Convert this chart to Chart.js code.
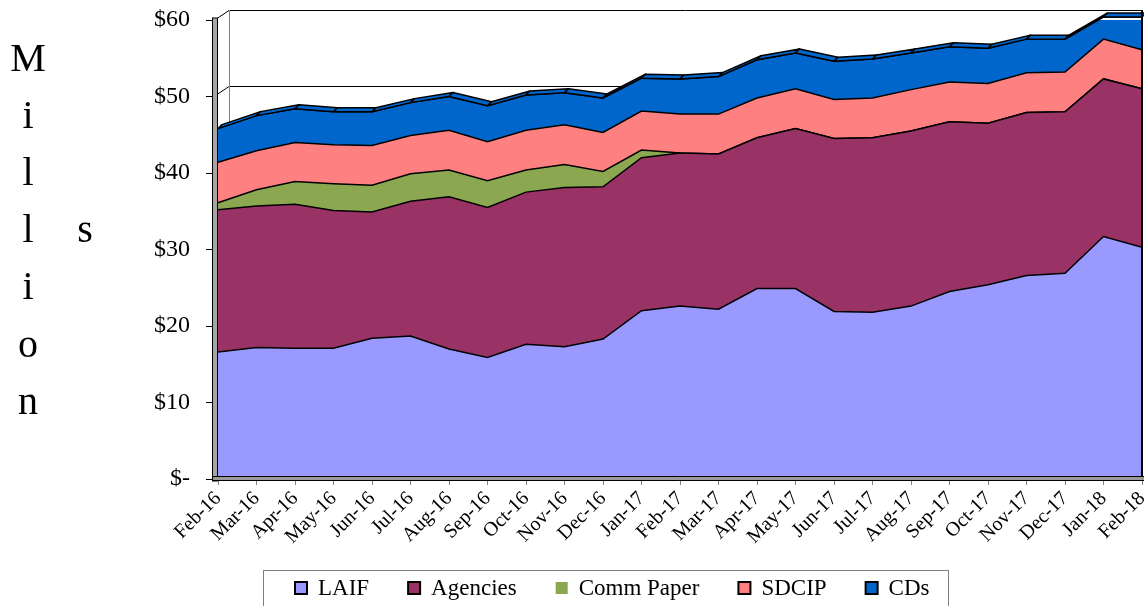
<!DOCTYPE html>
<html>
<head>
<meta charset="utf-8">
<script src="https://cdn.jsdelivr.net/npm/chart.js@4.4.1/dist/chart.umd.min.js"></script>
<style>
html,body{margin:0;padding:0;background:#fff;}
#wrap{width:1144px;height:606px;position:relative;overflow:hidden;}
</style>
</head>
<body>
<div id="wrap"><canvas id="c" width="1144" height="606"></canvas></div>
<script>
// ---- data ----
const months = ['Feb-16','Mar-16','Apr-16','May-16','Jun-16','Jul-16','Aug-16','Sep-16','Oct-16','Nov-16','Dec-16',
  'Jan-17','Feb-17','Mar-17','Apr-17','May-17','Jun-17','Jul-17','Aug-17','Sep-17','Oct-17','Nov-17','Dec-17','Jan-18','Feb-18'];
const laif      = [16.6,17.2,17.1,17.1,18.4,18.7,17.0,15.9,17.6,17.3,18.3,22.0,22.6,22.2,24.9,24.9,21.9,21.8,22.6,24.5,25.4,26.6,26.9,31.7,30.3];
const agencies  = [18.6,18.5,18.8,18.0,16.5,17.6,19.9,19.6,19.9,20.8,19.9,20.0,20.0,20.3,19.7,20.9,22.6,22.8,22.9,22.2,21.1,21.3,21.1,20.6,20.7];
const commPaper = [0.9,2.1,3.0,3.5,3.5,3.6,3.5,3.5,2.9,3.0,2.0,1.0,0,0,0,0,0,0,0,0,0,0,0,0,0];
const sdcip     = [5.3,5.1,5.1,5.1,5.2,5.0,5.2,5.1,5.2,5.2,5.1,5.1,5.1,5.2,5.2,5.2,5.1,5.2,5.4,5.2,5.2,5.2,5.2,5.2,5.1];
const cds       = [4.4,4.6,4.4,4.3,4.4,4.3,4.4,4.7,4.6,4.2,4.5,4.3,4.6,4.9,5.0,4.7,5.0,5.1,4.8,4.6,4.6,4.4,4.3,2.9,4.3];
const seriesNames = ['LAIF','Agencies','Comm Paper','SDCIP','CDs'];
const yTickValues = [0,10,20,30,40,50,60];
const yTitle = 'Millions';

// ---- styles ----
const seriesColors = ['#9999FF','#993366','#8BA750','#FF8080','#0066CC'];
const legendOutlined = [true,true,false,true,true];
const serif = "'Liberation Serif','Times New Roman',serif";
const WALL_DX = 11, WALL_DY = 10;   // 3D wall offset
const RIB = 4;                      // series depth

const seriesValues = [laif, agencies, commPaper, sdcip, cds];

const wallPlugin = {
  id: 'walls',
  beforeDatasetsDraw(chart) {
    const {ctx, chartArea: a, scales: {y}} = chart;
    ctx.save();
    ctx.strokeStyle = '#000'; ctx.lineWidth = 1;
    yTickValues.forEach(v => {
      const py = Math.round(y.getPixelForValue(v) - WALL_DY) + 0.5;
      ctx.beginPath(); ctx.moveTo(a.left + WALL_DX, py); ctx.lineTo(a.right, py); ctx.stroke();
      ctx.beginPath(); ctx.moveTo(a.left - 4, py + WALL_DY); ctx.lineTo(a.left + WALL_DX, py); ctx.stroke();
    });
    ctx.strokeStyle = '#808080';
    ctx.beginPath(); ctx.moveTo(a.left + WALL_DX + 0.5, y.getPixelForValue(60) - WALL_DY); ctx.lineTo(a.left + WALL_DX + 0.5, a.bottom - WALL_DY); ctx.stroke();
    ctx.fillStyle = '#a6a6a6';
    ctx.fillRect(a.left - 5, a.top - 2, 5, a.bottom - a.top + 4);
    ctx.strokeStyle = '#000';
    ctx.strokeRect(a.left - 5.5, a.top - 2, 5, a.bottom - a.top + 4);
    ctx.restore();
  },
  afterDatasetsDraw(chart) {
    const {ctx, chartArea: a, scales: {y}} = chart;
    const meta = chart.getDatasetMeta(seriesNames.length - 1);
    const pts = meta.data;
    ctx.save();
    ctx.lineJoin = 'round';
    ctx.fillStyle = seriesColors[seriesColors.length - 1];
    ctx.strokeStyle = '#000'; ctx.lineWidth = 1.5;
    for (let i = 0; i < pts.length - 1; i++) {
      const p = pts[i], q = pts[i + 1];
      ctx.beginPath();
      ctx.moveTo(p.x, p.y); ctx.lineTo(q.x, q.y);
      ctx.lineTo(q.x + RIB, q.y - RIB); ctx.lineTo(p.x + RIB, p.y - RIB);
      ctx.closePath(); ctx.fill(); ctx.stroke();
    }
    // right edge of plot
    ctx.lineWidth = 2;
    ctx.beginPath(); ctx.moveTo(a.right, y.getPixelForValue(60) - WALL_DY); ctx.lineTo(a.right, a.bottom); ctx.stroke();
    // floor strip
    ctx.fillStyle = '#9a9a9a'; ctx.lineWidth = 1;
    ctx.fillRect(a.left - 5, a.bottom - 2, a.right - a.left + 10, 4);
    ctx.strokeRect(a.left - 5.5, a.bottom - 2.5, a.right - a.left + 10, 4);
    ctx.restore();
  },
  afterDraw(chart) {
    const ctx = chart.ctx;
    ctx.save();
    ctx.fillStyle = '#000';
    ctx.font = '40px ' + serif;
    ctx.textAlign = 'center'; ctx.textBaseline = 'middle';
    const letters = yTitle.split('');
    letters.forEach((ch, i) => {
      if (i < 7) ctx.fillText(ch, 28, 60 + i * 57.2);
      else ctx.fillText(ch, 85, 60 + 3 * 57.2);
    });
    ctx.font = '23px ' + serif;
    ctx.textAlign = 'left';
    let x = 295; const cy = 588;
    seriesNames.forEach((name, i) => {
      ctx.fillStyle = seriesColors[i];
      ctx.fillRect(x, cy - 6, 12, 12);
      if (legendOutlined[i]) { ctx.strokeStyle = '#000'; ctx.lineWidth = 2; ctx.strokeRect(x, cy - 6, 12, 12); }
      ctx.fillStyle = '#000';
      ctx.fillText(name, x + 23, cy + 1);
      x += 23 + ctx.measureText(name).width + 39;
    });
    ctx.strokeStyle = '#7f7f7f'; ctx.lineWidth = 1;
    ctx.strokeRect(263.5, 570.5, 685, 50);
    ctx.restore();
  }
};

const datasets = seriesNames.map((name, i) => ({
  label: name,
  data: seriesValues[i],
  backgroundColor: seriesColors[i],
  borderColor: '#000',
  borderWidth: 1.5,
  pointRadius: 0,
  tension: 0,
  fill: i === 0 ? 'origin' : '-1',
  clip: false
}));

new Chart(document.getElementById('c'), {
  type: 'line',
  data: { labels: months, datasets },
  options: {
    responsive: false,
    animation: false,
    devicePixelRatio: 1,
    layout: { padding: { top: 20, right: 2, left: 0, bottom: 0 } },
    plugins: { legend: { display: false }, tooltip: { enabled: false } },
    scales: {
      x: {
        offset: false,
        grid: { drawOnChartArea: false, tickLength: 6, color: '#808080' },
        border: { display: false },
        ticks: { autoSkip: false, minRotation: 45, maxRotation: 45, padding: 2, color: '#000', font: { family: serif, size: 20 } },
        afterFit(s) { s.height = 127; s.paddingLeft = 0; s.paddingRight = 0; }
      },
      y: {
        stacked: true,
        min: 0, max: 60,
        afterBuildTicks(s) { s.ticks = yTickValues.map(v => ({ value: v })); },
        grid: { drawOnChartArea: false, tickLength: 12, color: '#000' },
        border: { display: false },
        ticks: {
          padding: 16, color: '#000', font: { family: serif, size: 24 },
          callback: v => v === 0 ? '$-' : '$' + v
        },
        afterFit(s) { s.width = 218; s.paddingTop = 0; s.paddingBottom = 0; }
      }
    }
  },
  plugins: [wallPlugin]
});
</script>
</body>
</html>
